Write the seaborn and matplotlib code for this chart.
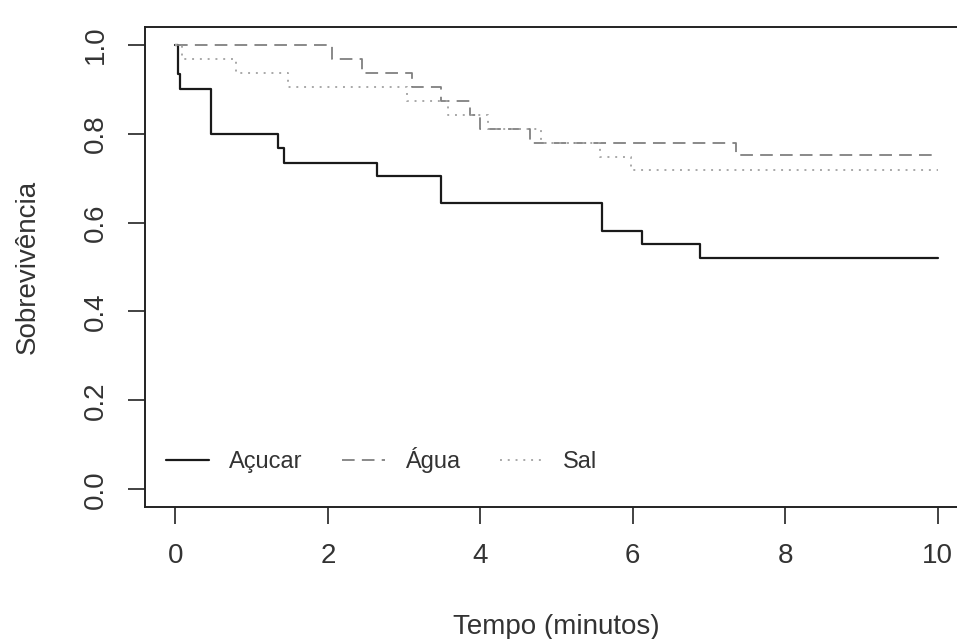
import matplotlib
matplotlib.use("Agg")
import matplotlib.pyplot as plt
import seaborn as sns
import pandas as pd

# Data (Kaplan-Meier step curves)
acucar_t = [0, 0.03, 0.06, 0.46, 1.35, 1.42, 2.64, 3.49, 5.60, 6.12, 6.88, 10]
acucar_s = [1.0, 0.935, 0.90, 0.80, 0.767, 0.735, 0.705, 0.645, 0.582, 0.552, 0.52, 0.52]

agua_t = [0, 2.05, 2.45, 3.11, 3.48, 3.86, 3.99, 4.65, 7.36, 10]
agua_s = [1.0, 0.968, 0.937, 0.905, 0.873, 0.842, 0.81, 0.78, 0.752, 0.752]

sal_t = [0, 0.09, 0.80, 1.48, 3.04, 3.57, 4.10, 4.80, 5.57, 5.98, 10]
sal_s = [1.0, 0.968, 0.937, 0.905, 0.873, 0.842, 0.81, 0.78, 0.748, 0.718, 0.718]

series_names = ["Açucar", "Água", "Sal"]
x_ticks = [0, 2, 4, 6, 8, 10]
y_ticks = [0.0, 0.2, 0.4, 0.6, 0.8, 1.0]

sns.set_theme(style="white")
plt.rcParams['font.family'] = ['Liberation Sans', 'DejaVu Sans']

fig = plt.figure(figsize=(9.57, 6.39), dpi=100)
ax = fig.add_axes([145/957, 132/639, (968-145)/957, (507-27)/639])

styles = {
    "Açucar": dict(color="#1a1a1a", linestyle="-", linewidth=1.6),
    "Água": dict(color="#808080", linestyle=(0, (7, 4)), linewidth=1.3),
    "Sal": dict(color="#a8a8a8", linestyle=(0, (1, 3)), linewidth=1.4),
}
data = {
    "Açucar": (acucar_t, acucar_s),
    "Água": (agua_t, agua_s),
    "Sal": (sal_t, sal_s),
}
for name in series_names:
    t, s = data[name]
    df = pd.DataFrame({"t": t, "s": s})
    sns.lineplot(data=df, x="t", y="s", ax=ax, drawstyle="steps-post",
                 estimator=None, sort=False, label=name, **styles[name])

ax.set_xlim(-0.4, 10.4)
ax.set_ylim(-0.04, 1.04)
ax.set_xticks(x_ticks)
ax.set_xticklabels([str(v) for v in x_ticks])
ax.set_yticks(y_ticks)
ax.set_yticklabels([f"{v:.1f}" for v in y_ticks], rotation=90, va="center")
ax.tick_params(axis="both", direction="out", length=12, width=1.2,
               color="#222222", labelsize=20, labelcolor="#333333",
               bottom=True, left=True, pad=14)
for sp in ax.spines.values():
    sp.set_color("#222222")
    sp.set_linewidth(1.4)
ax.spines["right"].set_visible(False)

ax.set_xlabel("Tempo (minutos)", fontsize=20, color="#333333", labelpad=32)
ax.set_ylabel("Sobrevivência", fontsize=20, color="#333333", labelpad=30)
ax.grid(False)

leg = ax.legend(loc="lower left", bbox_to_anchor=(0.0, 0.027), ncol=3,
                frameon=False, fontsize=17, handlelength=1.8,
                handletextpad=0.85, columnspacing=1.7, labelcolor="#333333")

fig.savefig("out.png", dpi=100, facecolor="white")
